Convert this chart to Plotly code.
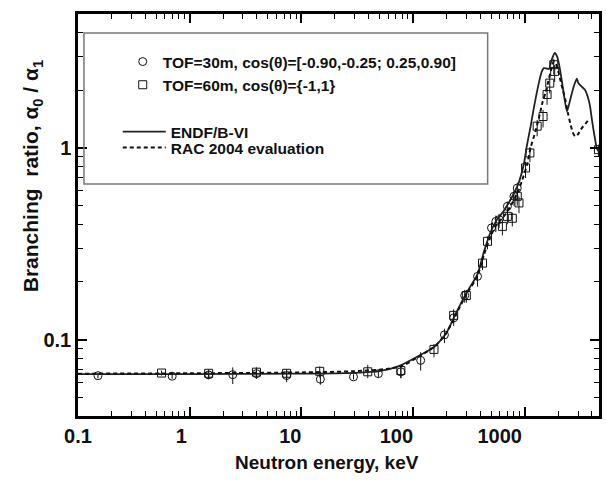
import plotly.graph_objects as go

# ---------------- data ----------------
# ENDF/B-VI evaluation (solid)
endf_e = [0.1, 1, 10, 30, 50, 73.6, 110, 156, 198, 243, 300, 378, 433, 500, 560, 650, 750,
          857, 900, 984, 1052, 1130, 1207, 1337, 1420, 1483, 1560, 1641, 1750, 1854, 1950,
          2050, 2200, 2388, 2550, 2750, 2930, 3000, 3150, 3470, 3700, 3846, 4000, 4120, 4300,
          4406, 4650]
endf_r = [0.0662, 0.0662, 0.0665, 0.0672, 0.0685, 0.0726, 0.0818, 0.092, 0.108, 0.138, 0.175,
          0.22, 0.29, 0.37, 0.42, 0.47, 0.54, 0.63, 0.68, 0.83, 1.05, 1.3, 1.62, 2.18, 2.5,
          2.61, 2.6, 2.58, 2.9, 3.13, 3.0, 2.65, 2.05, 1.55, 1.78, 2.1, 2.3, 2.2, 2.12, 2.01,
          1.82, 1.65, 1.4, 1.25, 1.08, 1.0, 0.95]

# RAC 2004 evaluation (dashed)
rac_e = [0.1, 1, 10, 30, 60, 80, 110, 156, 198, 243, 300, 378, 433, 500, 560, 650, 750, 857,
         950, 1050, 1127, 1247, 1337, 1450, 1532, 1620, 1695, 1760, 1820, 1900, 2015, 2150,
         2307, 2450, 2553, 2700, 2831, 3000, 3244, 3500, 3724]
rac_r = [0.0665, 0.0668, 0.0675, 0.0685, 0.0705, 0.073, 0.081, 0.092, 0.108, 0.136, 0.172,
         0.215, 0.28, 0.35, 0.40, 0.44, 0.50, 0.58, 0.68, 0.82, 1.0, 1.22, 1.43, 1.75, 1.94,
         2.2, 2.46, 2.7, 2.83, 2.75, 2.46, 2.1, 1.79, 1.5, 1.35, 1.2, 1.15, 1.18, 1.27, 1.34,
         1.40]

# TOF = 30 m (circles)
tof30_e = [0.151, 0.697, 1.48, 2.43, 3.96, 7.38, 14.8, 29.3, 48.9, 77.8, 117, 191, 231, 290,
           378, 504, 551, 590, 699, 801, 857]
tof30_r = [0.0649, 0.0645, 0.0655, 0.0657, 0.0665, 0.065, 0.0622, 0.064, 0.0665, 0.068, 0.078,
           0.106, 0.130, 0.17, 0.214, 0.383, 0.414, 0.423, 0.496, 0.56, 0.618]
tof30_up = [0.002, 0.002, 0.003, 0.006, 0.003, 0.004, 0.006, 0.002, 0.003, 0.004, 0.008,
            0.008, 0.010, 0.012, 0.015, 0.025, 0.03, 0.03, 0.03, 0.04, 0.04]
tof30_dn = [0.002, 0.002, 0.003, 0.007, 0.004, 0.005, 0.004, 0.002, 0.003, 0.005, 0.009,
            0.010, 0.012, 0.014, 0.025, 0.04, 0.05, 0.04, 0.05, 0.06, 0.06]

# TOF = 60 m (squares)
tof60_e = [0.56, 1.48, 3.96, 7.38, 14.6, 39.3, 77.8, 154, 231, 300, 419, 464, 631, 699, 774,
           857, 888, 1017, 1112, 1292, 1459, 1585, 1675, 1820, 1854, 4571]
tof60_r = [0.067, 0.0668, 0.0677, 0.0668, 0.0684, 0.068, 0.069, 0.089, 0.134, 0.17, 0.251,
           0.326, 0.39, 0.44, 0.43, 0.56, 0.517, 0.787, 0.942, 1.30, 1.46, 1.90, 2.18, 2.72,
           2.51, 0.98]
tof60_up = [0.002, 0.003, 0.004, 0.003, 0.004, 0.006, 0.004, 0.006, 0.010, 0.012, 0.015,
            0.02, 0.03, 0.03, 0.03, 0.04, 0.04, 0.06, 0.07, 0.10, 0.12, 0.15, 0.18, 0.2, 0.2,
            0.06]
tof60_dn = [0.002, 0.004, 0.005, 0.004, 0.005, 0.005, 0.006, 0.008, 0.012, 0.014, 0.02,
            0.03, 0.04, 0.04, 0.04, 0.06, 0.06, 0.09, 0.1, 0.15, 0.18, 0.22, 0.25, 0.3, 0.3,
            0.08]

x_ticks = [0.1, 1, 10, 100, 1000]
x_ticktext = ["0.1", "1", "10", "100", "1000"]
y_ticks = [0.1, 1]
y_ticktext = ["0.1", "1"]

# ---------------- figure ----------------
FONT = "Liberation Sans Narrow, Arial Narrow, Liberation Sans, Arial, sans-serif"
W, H = 606, 487
ML, MR, MT, MB = 78, 4, 14, 71
PW, PH = W - ML - MR, H - MT - MB
NB = "\u00a0"
# the source figure sets its x tick labels a little to the left of their ticks
x_ticktext_shown = [t + NB * n for t, n in zip(x_ticktext, [0, 3, 4, 6, 9])]


def px_x(p):
    return (p - ML) / PW


def px_y(p):
    return (H - MB - p) / PH


fig = go.Figure()

fig.add_trace(go.Scatter(
    x=tof30_e, y=tof30_r, mode="markers", name="TOF=30m, cos(θ)=[-0.90,-0.25; 0.25,0.90]",
    legend="legend",
    marker=dict(symbol="circle-open", size=8, color="#111", line=dict(width=1)),
    error_y=dict(type="data", array=tof30_up, arrayminus=tof30_dn, width=0, thickness=1,
                 color="#111"),
))
fig.add_trace(go.Scatter(
    x=tof60_e, y=tof60_r, mode="markers", name="TOF=60m, cos(θ)={-1,1}",
    legend="legend",
    marker=dict(symbol="square-open", size=8, color="#111", line=dict(width=1)),
    error_y=dict(type="data", array=tof60_up, arrayminus=tof60_dn, width=0, thickness=1,
                 color="#111"),
))
fig.add_trace(go.Scatter(
    x=endf_e, y=endf_r, mode="lines", name="ENDF/B-VI", legend="legend2",
    line=dict(color="#222", width=1.8, shape="spline", smoothing=0.6),
))
fig.add_trace(go.Scatter(
    x=rac_e, y=rac_r, mode="lines", name="RAC 2004 evaluation", legend="legend3",
    line=dict(color="#111", width=2, dash="4px,3px", shape="spline", smoothing=0.6),
))

axis_common = dict(
    type="log", showgrid=False, zeroline=False, showline=True, linecolor="black",
    linewidth=2.5, mirror="ticks", ticks="inside", ticklen=9, tickwidth=1.5,
    tickcolor="black",
    minor=dict(ticks="inside", ticklen=5, tickwidth=1, tickcolor="black", dtick="D1",
               showgrid=False),
    tickfont=dict(family=FONT, size=20, color="#111", weight="bold"),
)

legend_font = dict(family=FONT, size=15.5, color="#111", weight="bold")
legend_common = dict(xanchor="left", yanchor="top", bgcolor="rgba(0,0,0,0)", borderwidth=0,
                     font=legend_font)

fig.update_layout(
    width=W, height=H,
    margin=dict(l=ML, r=MR, t=MT, b=MB, pad=0),
    paper_bgcolor="white", plot_bgcolor="white",
    xaxis=dict(axis_common, range=[-1, 3.665], tickvals=x_ticks, ticktext=x_ticktext_shown),
    yaxis=dict(axis_common, range=[-1.398, 0.699], tickvals=y_ticks, ticktext=y_ticktext),
    showlegend=True,
    legend=dict(legend_common, x=px_x(123), y=px_y(45), itemwidth=30),
    legend2=dict(legend_common, x=px_x(118), y=px_y(115), itemwidth=43),
    legend3=dict(legend_common, x=px_x(118), y=px_y(131), itemwidth=43),
    shapes=[dict(type="rect", xref="paper", yref="paper",
                 x0=px_x(84), x1=px_x(490), y0=px_y(184), y1=px_y(33),
                 line=dict(color="#777", width=1.5), fillcolor="rgba(0,0,0,0)")],
    annotations=[
        dict(text="Neutron energy, keV", xref="paper", yref="paper",
             x=px_x(328), y=px_y(462), xanchor="center", yanchor="middle", showarrow=False,
             font=dict(family=FONT, size=19, color="#111", weight="bold")),
        dict(text="Branching  ratio, α<sub>0</sub> / α<sub>1</sub>", xref="paper", yref="paper",
             x=px_x(32), y=px_y(176), xanchor="center", yanchor="middle", showarrow=False,
             textangle=-90,
             font=dict(family=FONT, size=21, color="#111", weight="bold")),
    ],
)

fig.write_html("out.html", config={"displayModeBar": False},
               post_script="document.body.style.margin='0';")
